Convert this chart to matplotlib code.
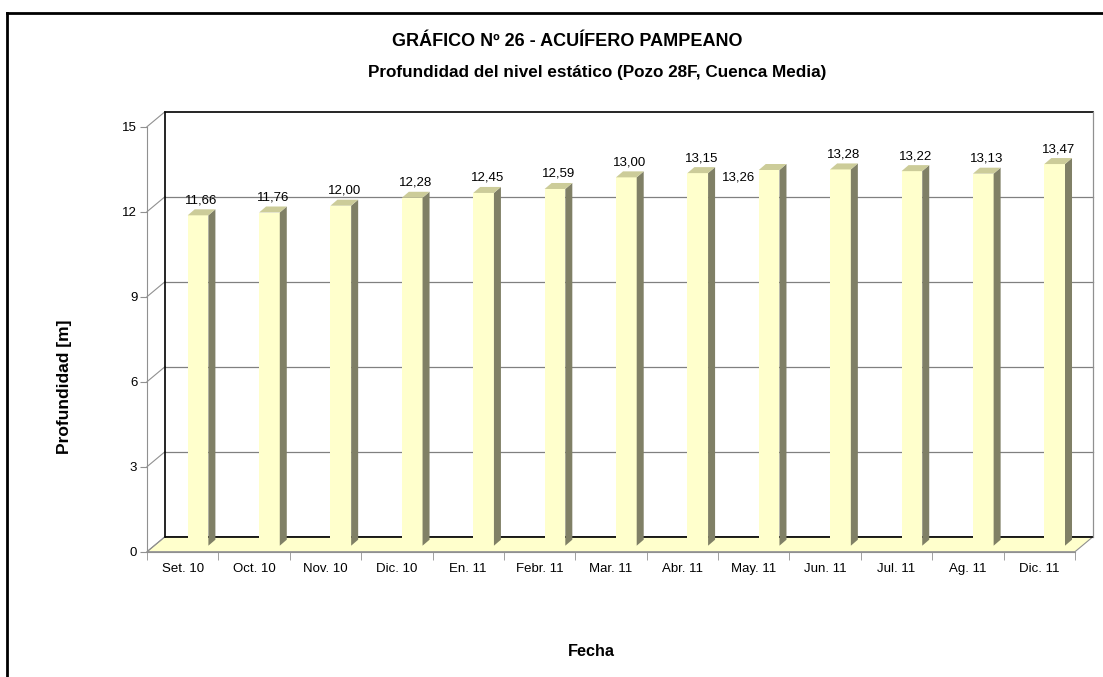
import matplotlib
matplotlib.use("Agg")
import matplotlib.pyplot as plt
from matplotlib.patches import Polygon
from matplotlib.transforms import IdentityTransform
from matplotlib.lines import Line2D

plt.rcParams['font.family'] = ['Liberation Sans', 'DejaVu Sans']

categories = ["Set. 10", "Oct. 10", "Nov. 10", "Dic. 10", "En. 11", "Febr. 11", "Mar. 11",
              "Abr. 11", "May. 11", "Jun. 11", "Jul. 11", "Ag. 11", "Dic. 11"]
values = [11.66, 11.76, 12.00, 12.28, 12.45, 12.59, 13.00, 13.15, 13.26, 13.28, 13.22, 13.13, 13.47]
yticks = [0, 3, 6, 9, 12, 15]

W, H = 1103, 677
fig = plt.figure(figsize=(W / 100, H / 100), dpi=100)
fig.patch.set_facecolor("white")

# outer frame (left and top edges visible)
fig.add_artist(Line2D([7 / W, 7 / W], [0, 1 - 12.5 / H], transform=fig.transFigure,
                      color="black", lw=2))
fig.add_artist(Line2D([7 / W, 1], [1 - 12.5 / H, 1 - 12.5 / H], transform=fig.transFigure,
                      color="black", lw=2))

x0, x1 = 147, 1075
y0, y15 = 551.7, 126.7
ax = fig.add_axes([x0 / W, 1 - y0 / H, (x1 - x0) / W, (y0 - y15) / H])
n = len(categories)
ax.set_xlim(0, n)
ax.set_ylim(0, 15)
ax.patch.set_alpha(0)
for s in ["top", "right"]:
    ax.spines[s].set_visible(False)
ax.spines["left"].set_color("#909090")
ax.spines["bottom"].set_color("#909090")
ax.set_yticks(yticks)
ax.set_yticklabels([str(v) for v in yticks], fontsize=9.5)
ax.tick_params(axis="y", length=5, color="#909090", pad=2)
ax.set_xticks([i + 0.5 for i in range(n)])
ax.set_xticklabels(categories, fontsize=9.5)
ax.tick_params(axis="x", length=0, pad=8)
ax.set_xticks(range(n + 1), minor=True)
ax.tick_params(axis="x", which="minor", length=6, color="#909090")

fig.canvas.draw()
T = ax.transData
DX, DY = 18, 15  # wall depth in pixels (display coords, y up)


def d(x, y):
    return T.transform((x, y))


ident = IdentityTransform()

# floor
p0 = d(0, 0); p1 = d(n, 0)
floor = Polygon([p0, p1, (p1[0] + DX, p1[1] + DY), (p0[0] + DX, p0[1] + DY)],
                closed=True, transform=ident, facecolor="#FFFFCC", edgecolor="#909090", lw=0.8, zorder=1)
fig.add_artist(floor)

# back wall grid lines and connectors
for v in yticks:
    a = d(0, v); b = d(n, v)
    col = "black" if v in (0, 15) else "#808080"
    fig.add_artist(Line2D([a[0] + DX, b[0] + DX], [a[1] + DY, b[1] + DY], transform=ident,
                          color=col, lw=1.2 if v in (0, 15) else 0.9, zorder=1.5))
    fig.add_artist(Line2D([a[0], a[0] + DX], [a[1], a[1] + DY], transform=ident,
                          color="#909090", lw=0.8, zorder=1.5))
a = d(0, 0); b = d(0, 15)
fig.add_artist(Line2D([a[0] + DX, b[0] + DX], [a[1] + DY, b[1] + DY], transform=ident,
                      color="black", lw=1.2, zorder=1.5))
a = d(n, 0); b = d(n, 15)
fig.add_artist(Line2D([a[0] + DX, b[0] + DX], [a[1] + DY, b[1] + DY], transform=ident,
                      color="#909090", lw=0.9, zorder=1.5))

# bars
bx, by = 5, 6        # front face depth offset
sx, sy = 7, 6        # bar depth
for i, v in enumerate(values):
    bl = d(i + 0.50, 0); tr = d(i + 0.79, v)
    L, R = bl[0] + bx, tr[0] + bx
    B, Tp = bl[1] + by, tr[1] + by
    front = Polygon([(L, B), (R, B), (R, Tp), (L, Tp)], transform=ident,
                    facecolor="#FFFFCC", edgecolor="none", zorder=3)
    side = Polygon([(R, B), (R + sx, B + sy), (R + sx, Tp + sy), (R, Tp)], transform=ident,
                   facecolor="#808066", edgecolor="none", zorder=3)
    top = Polygon([(L, Tp), (R, Tp), (R + sx, Tp + sy), (L + sx, Tp + sy)], transform=ident,
                  facecolor="#CCCC99", edgecolor="none", zorder=3)
    for p in (front, side, top):
        fig.add_artist(p)
    lbl = f"{v:.2f}".replace(".", ",")
    cx = (L + R + sx) / 2
    ty = Tp + sy + 3
    ha = "center"
    if categories[i] == "May. 11":
        cx = L - 4; ty = Tp - 14; ha = "right"
    fig.text(cx / W, ty / H, lbl, transform=fig.transFigure, ha=ha, va="bottom",
             fontsize=9.5, zorder=4)

fig.text(567 / W, 1 - 42 / H, "GRÁFICO Nº 26 - ACUÍFERO PAMPEANO", ha="center", va="center",
         fontsize=13, fontweight="bold")
fig.text(597 / W, 1 - 73 / H, "Profundidad del nivel estático (Pozo 28F, Cuenca Media)",
         ha="center", va="center", fontsize=12.3, fontweight="bold")
fig.text(65 / W, 1 - 387 / H, "Profundidad [m]", rotation=90, ha="center", va="center",
         fontsize=12.5, fontweight="bold")
fig.text(591 / W, 1 - 651 / H, "Fecha", ha="center", va="center", fontsize=11.7, fontweight="bold")

fig.savefig("out.png", dpi=100)
